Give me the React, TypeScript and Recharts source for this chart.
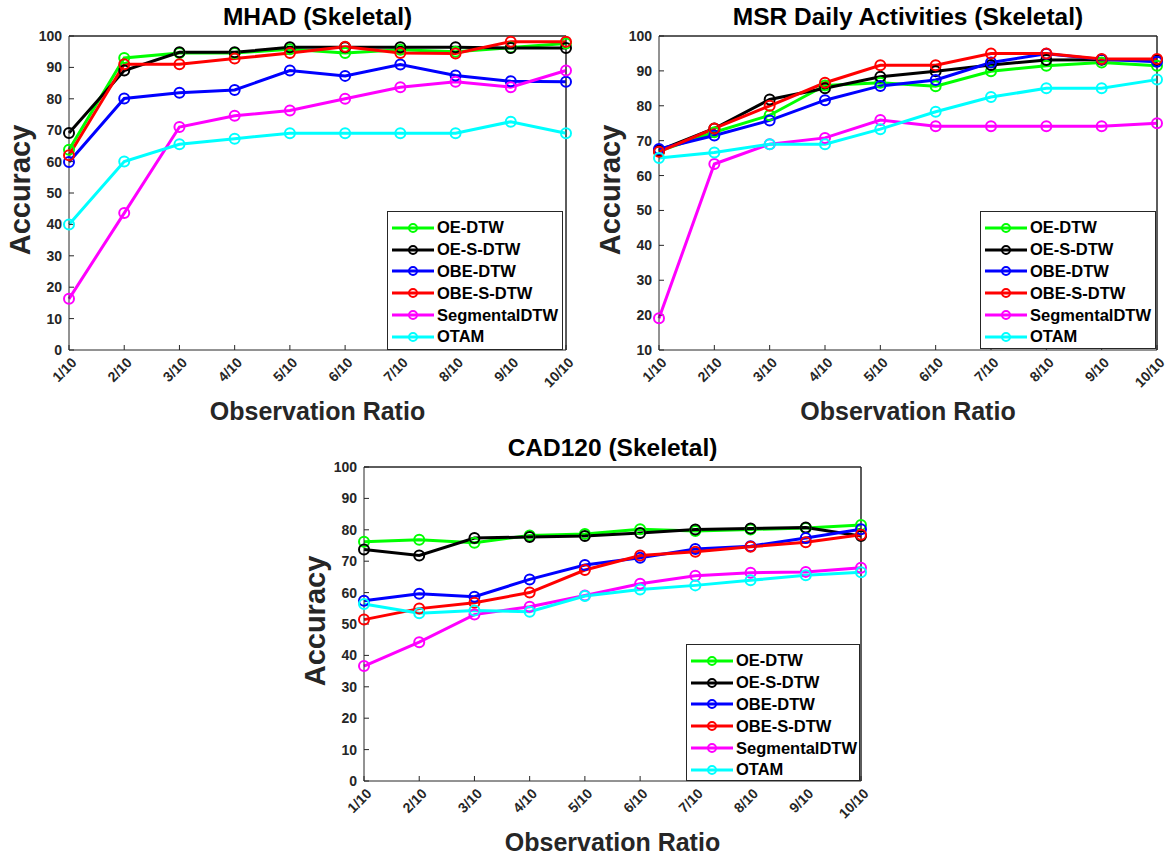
import React from "react";
import { LineChart, Line, XAxis, YAxis, Legend, ReferenceLine } from "recharts";

const ratios = ["1/10", "2/10", "3/10", "4/10", "5/10", "6/10", "7/10", "8/10", "9/10", "10/10"];

const seriesNames = ["OE-DTW", "OE-S-DTW", "OBE-DTW", "OBE-S-DTW", "SegmentalDTW", "OTAM"];
const seriesColors = ["#00FF00", "#000000", "#0000FF", "#FF0000", "#FF00FF", "#00FFFF"];

// MHAD (Skeletal)
const mhadOeDtw = [63.8, 93.0, 94.6, 94.6, 95.8, 94.6, 95.6, 95.0, 96.3, 97.6];
const mhadOeSDtw = [69.1, 89.0, 94.8, 94.8, 96.4, 96.4, 96.4, 96.4, 96.2, 96.2];
const mhadObeDtw = [59.9, 80.1, 81.9, 82.8, 89.0, 87.3, 90.9, 87.4, 85.6, 85.4];
const mhadObeSDtw = [62.0, 91.0, 91.0, 92.8, 94.6, 96.6, 94.6, 94.4, 98.2, 98.2];
const mhadSegmental = [16.3, 43.6, 71.0, 74.6, 76.3, 80.0, 83.7, 85.4, 83.7, 89.0];
const mhadOtam = [40.0, 60.0, 65.5, 67.3, 69.0, 69.0, 69.0, 69.0, 72.7, 69.0];

// MSR Daily Activities (Skeletal)
const msrOeDtw = [67.0, 72.4, 77.3, 85.8, 86.6, 85.6, 89.9, 91.5, 92.4, 91.5];
const msrOeSDtw = [67.2, 73.5, 81.8, 85.0, 88.3, 89.9, 91.7, 93.1, 93.2, 93.1];
const msrObeDtw = [67.6, 71.5, 75.8, 81.6, 85.7, 87.4, 92.4, 94.9, 93.3, 92.6];
const msrObeSDtw = [66.8, 73.5, 80.0, 86.6, 91.6, 91.6, 95.0, 95.0, 93.4, 93.4];
const msrSegmental = [19.1, 63.3, 69.0, 70.8, 75.9, 74.1, 74.1, 74.1, 74.1, 75.0];
const msrOtam = [65.0, 66.6, 69.0, 69.0, 73.3, 78.3, 82.5, 85.0, 85.0, 87.5];

// CAD120 (Skeletal)
const cadOeDtw = [76.2, 76.8, 75.9, 78.2, 78.7, 80.2, 79.6, 80.1, 80.6, 81.5];
const cadOeSDtw = [73.7, 71.8, 77.4, 77.7, 78.0, 79.0, 80.1, 80.4, 80.7, 78.0];
const cadObeDtw = [57.4, 59.6, 58.7, 64.2, 68.8, 71.1, 73.9, 74.8, 77.4, 80.2];
const cadObeSDtw = [51.4, 54.9, 56.8, 60.0, 67.2, 71.8, 73.0, 74.6, 76.0, 78.4];
const cadSegmental = [36.6, 44.2, 53.0, 55.5, 59.1, 62.8, 65.4, 66.3, 66.6, 67.9];
const cadOtam = [56.4, 53.4, 54.3, 53.9, 58.9, 61.0, 62.3, 63.9, 65.5, 66.5];

const ticks0 = [0, 10, 20, 30, 40, 50, 60, 70, 80, 90, 100];
const ticks10 = [10, 20, 30, 40, 50, 60, 70, 80, 90, 100];

const FONT = "'Liberation Sans', Arial, Helvetica, sans-serif";
const AXIS = "#262626";

function buildData(series: number[][]) {
  return ratios.map((r, i) => {
    const row: any = { ratio: r };
    seriesNames.forEach((n, k) => {
      row[n] = series[k][i];
    });
    return row;
  });
}

const XTick = (props: any) => {
  const { x, y, payload } = props;
  const tx = x + 5;
  const ty = y + 4;
  return (
    <text
      x={tx}
      y={ty}
      transform={`rotate(-45 ${tx} ${ty})`}
      textAnchor="end"
      dy="0.35em"
      fill={AXIS}
      fontSize={14}
      fontWeight="bold"
      fontFamily={FONT}
    >
      {payload.value}
    </text>
  );
};

const LegendBox = () => (
  <div
    style={{
      width: "100%",
      height: "100%",
      boxSizing: "border-box",
      border: `1px solid ${AXIS}`,
      background: "#fff",
      paddingTop: 5,
    }}
  >
    {seriesNames.map((n, k) => (
      <div key={n} style={{ height: 21.8, display: "flex", alignItems: "center" }}>
        <svg width={48} height={16} style={{ flex: "none" }}>
          <line x1={4} x2={46} y1={8} y2={8} stroke={seriesColors[k]} strokeWidth={3} />
          <circle cx={25} cy={8} r={4} fill="none" stroke={seriesColors[k]} strokeWidth={2} />
        </svg>
        <span style={{ fontFamily: FONT, fontWeight: "bold", fontSize: 16.5, color: "#000", marginLeft: 1 }}>{n}</span>
      </div>
    ))}
  </div>
);

interface PanelProps {
  title: string;
  series: number[][];
  chartX: number;
  chartY: number;
  chartW: number;
  chartH: number;
  plot: { l: number; t: number; r: number; b: number };
  yDomain: [number, number];
  yTicks: number[];
  legend: { l: number; t: number; r: number; b: number };
}

function Panel({ title, series, chartX, chartY, chartW, chartH, plot, yDomain, yTicks, legend }: PanelProps) {
  const data = buildData(series);
  const yAxisW = 50;
  const xAxisH = 50;
  const margin = {
    left: plot.l - chartX - yAxisW,
    top: plot.t - chartY - 1,
    right: chartX + chartW - plot.r - 1,
    bottom: chartY + chartH - plot.b - xAxisH,
  };
  const cx = (plot.l + plot.r) / 2;
  const cy = (plot.t + plot.b) / 2;
  return (
    <>
      <div
        style={{
          position: "absolute",
          left: cx,
          top: plot.t - 19,
          transform: "translate(-50%, -50%)",
          fontFamily: FONT,
          fontWeight: "bold",
          fontSize: 24.5,
          color: "#000",
          whiteSpace: "nowrap",
        }}
      >
        {title}
      </div>
      <div
        style={{
          position: "absolute",
          left: cx,
          top: plot.b + 61,
          transform: "translate(-50%, -50%)",
          fontFamily: FONT,
          fontWeight: "bold",
          fontSize: 25,
          color: AXIS,
          whiteSpace: "nowrap",
        }}
      >
        Observation Ratio
      </div>
      <div
        style={{
          position: "absolute",
          left: plot.l - 49,
          top: cy - 3,
          transform: "translate(-50%, -50%) rotate(-90deg)",
          fontFamily: FONT,
          fontWeight: "bold",
          fontSize: 29,
          color: AXIS,
          whiteSpace: "nowrap",
        }}
      >
        Accuracy
      </div>
      <div style={{ position: "absolute", left: chartX, top: chartY }}>
        <LineChart width={chartW} height={chartH} data={data} margin={margin}>
          <XAxis
            dataKey="ratio"
            height={xAxisH}
            stroke={AXIS}
            tickSize={-5}
            tickMargin={11}
            interval={0}
            tick={<XTick />}
          />
          <XAxis
            xAxisId="top"
            dataKey="ratio"
            orientation="top"
            height={1}
            stroke={AXIS}
            tickSize={-5}
            interval={0}
            tick={false}
          />
          <YAxis
            type="number"
            domain={yDomain}
            ticks={yTicks}
            interval={0}
            width={yAxisW}
            stroke={AXIS}
            tickSize={-5}
            tickMargin={12}
            tick={{ fill: AXIS, fontSize: 14, fontWeight: "bold", fontFamily: FONT }}
          />
          <YAxis
            yAxisId="right"
            type="number"
            orientation="right"
            domain={yDomain}
            ticks={yTicks}
            interval={0}
            width={1}
            stroke={AXIS}
            tickSize={-5}
            tick={false}
          />
          <ReferenceLine y={yDomain[1]} stroke={AXIS} strokeWidth={1} />
          <ReferenceLine x={ratios[ratios.length - 1]} stroke={AXIS} strokeWidth={1} />
          {/* invisible series so the mirrored top/right axes get drawn */}
          <Line
            xAxisId="top"
            yAxisId="right"
            dataKey={seriesNames[0]}
            stroke="none"
            dot={false}
            activeDot={false}
            legendType="none"
            isAnimationActive={false}
          />
          {seriesNames.map((n, k) => (
            <Line
              key={n}
              dataKey={n}
              stroke={seriesColors[k]}
              strokeWidth={3}
              dot={{ r: 5, fill: "none", strokeWidth: 2, stroke: seriesColors[k] }}
              activeDot={false}
              isAnimationActive={false}
            />
          ))}
          <Legend
            layout="vertical"
            align="center"
            verticalAlign="middle"
            content={() => <LegendBox />}
            wrapperStyle={{
              position: "absolute",
              left: legend.l - chartX,
              top: legend.t - chartY,
              width: legend.r - legend.l,
              height: legend.b - legend.t,
            }}
          />
        </LineChart>
      </div>
    </>
  );
}

export default function App() {
  return (
    <div style={{ position: "absolute", left: 0, top: 0, width: 1168, height: 862, background: "#fff", overflow: "hidden" }}>
      <Panel
        title="MHAD (Skeletal)"
        series={[mhadOeDtw, mhadOeSDtw, mhadObeDtw, mhadObeSDtw, mhadSegmental, mhadOtam]}
        chartX={0}
        chartY={0}
        chartW={590}
        chartH={430}
        plot={{ l: 69, t: 36, r: 566, b: 350 }}
        yDomain={[0, 100]}
        yTicks={ticks0}
        legend={{ l: 387, t: 211, r: 563, b: 350 }}
      />
      <Panel
        title="MSR Daily Activities (Skeletal)"
        series={[msrOeDtw, msrOeSDtw, msrObeDtw, msrObeSDtw, msrSegmental, msrOtam]}
        chartX={590}
        chartY={0}
        chartW={578}
        chartH={430}
        plot={{ l: 659, t: 36, r: 1157, b: 350 }}
        yDomain={[10, 100]}
        yTicks={ticks10}
        legend={{ l: 980, t: 211, r: 1156, b: 349 }}
      />
      <Panel
        title="CAD120 (Skeletal)"
        series={[cadOeDtw, cadOeSDtw, cadObeDtw, cadObeSDtw, cadSegmental, cadOtam]}
        chartX={290}
        chartY={430}
        chartW={590}
        chartH={432}
        plot={{ l: 364, t: 467, r: 861, b: 781 }}
        yDomain={[0, 100]}
        yTicks={ticks0}
        legend={{ l: 686, t: 644, r: 860, b: 781 }}
      />
    </div>
  );
}
